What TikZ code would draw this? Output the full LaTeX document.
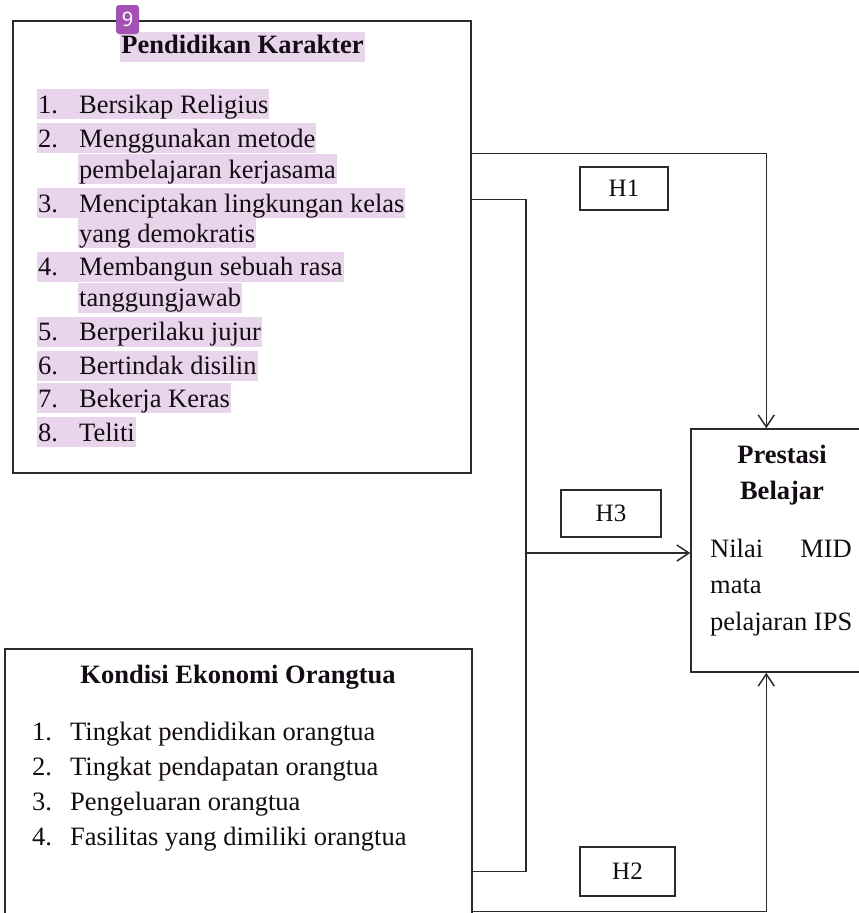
\documentclass[tikz,border=0pt]{standalone}
\usepackage{fontspec}
\setmainfont{Liberation Serif}
\newfontfamily\badgefont{Noto Sans}
\usetikzlibrary{arrows.meta}
\definecolor{hl}{HTML}{E9D5EB}
\definecolor{badge}{HTML}{A352B3}
\definecolor{ln}{HTML}{2B2B2B}
\definecolor{tx}{HTML}{140C14}
\begin{document}
\begin{tikzpicture}[x=1pt,y=-1pt,
  box/.style={draw=ln, line width=1.5pt, inner sep=0pt},
  conn/.style={draw=ln, line width=1.5pt},
  arr/.style={conn, -{Straight Barb[length=12pt,width=16pt,line width=1.5pt]}},
  txt/.style={font=\fontsize{26.5}{30}\selectfont, text=tx, inner sep=0pt},
  hlrow/.style={txt, anchor=base west, fill=hl, text height=24pt, text depth=6pt, inner xsep=1pt},
  item/.style={txt, anchor=base west},
  hbox/.style={box, font=\fontsize{25}{28}\selectfont, text=tx}
]
\useasboundingbox (0,0) rectangle (859,913);
\clip (0,0) rectangle (859,913);
\fill[white] (0,0) rectangle (859,913);

% boxes
\node[box, minimum width=458pt, minimum height=452pt] (k1) at (242,247) {};
\node[box, minimum width=467pt, minimum height=290pt] (ko) at (238.5,794) {};
\node[box, minimum width=200pt, minimum height=243pt] (pb) at (791,550.5) {};
\node[hbox, minimum width=88pt, minimum height=43pt] (h1) at (624,188.5) {H1};
\node[hbox, minimum width=100pt, minimum height=47pt] (h3) at (611,513.5) {H3};
\node[hbox, minimum width=95pt, minimum height=49pt] (h2) at (627.5,871.5) {H2};

% Pendidikan Karakter
\node[txt, anchor=base, fill=hl, text height=21pt, text depth=9pt, inner xsep=1pt] (t1) at (242.5,53) {\bfseries Pendidikan Karakter};
\node[fill=badge, rounded corners=3pt, minimum width=23pt, minimum height=29pt, inner sep=0pt, text=white, font=\badgefont\fontsize{20}{20}\selectfont] (bd) at (127.5,19.5) {9};
\node[hlrow] (r1) at (37,113.3) {\makebox[41pt][l]{1.}Bersikap Religius};
\node[hlrow] (r2) at (37,147.3) {\makebox[41pt][l]{2.}Menggunakan metode};
\node[hlrow] (r2b) at (78,178.3) {pembelajaran kerjasama};
\node[hlrow] (r3) at (37,212.3) {\makebox[41pt][l]{3.}Menciptakan lingkungan kelas};
\node[hlrow] (r3b) at (78,242.3) {yang demokratis};
\node[hlrow] (r4) at (37,275.7) {\makebox[41pt][l]{4.}Membangun sebuah rasa};
\node[hlrow] (r4b) at (78,306.7) {tanggungjawab};
\node[hlrow] (r5) at (37,340.7) {\makebox[41pt][l]{5.}Berperilaku jujur};
\node[hlrow] (r6) at (37,374.7) {\makebox[41pt][l]{6.}Bertindak disilin};
\node[hlrow] (r7) at (37,407.3) {\makebox[41pt][l]{7.}Bekerja Keras};
\node[hlrow] (r8) at (37,441.3) {\makebox[41pt][l]{8.}Teliti};

% Kondisi Ekonomi Orangtua
\node[txt, anchor=base] (t2) at (238,683) {\bfseries Kondisi Ekonomi Orangtua};
\node[item] (e1) at (32,740) {\makebox[38pt][l]{1.}Tingkat pendidikan orangtua};
\node[item] (e2) at (32,775) {\makebox[38pt][l]{2.}Tingkat pendapatan orangtua};
\node[item] (e3) at (32,810) {\makebox[38pt][l]{3.}Pengeluaran orangtua};
\node[item] (e4) at (32,845) {\makebox[38pt][l]{4.}Fasilitas yang dimiliki orangtua};

% Prestasi Belajar
\node[txt, anchor=base] (p1) at (782,463) {\bfseries Prestasi};
\node[txt, anchor=base] (p2) at (782,499) {\bfseries Belajar};
\node[txt, anchor=base west] (p3) at (710,557) {Nilai};
\node[txt, anchor=base east] (p4) at (852,557) {MID};
\node[txt, anchor=base west] (p5) at (710,593) {mata};
\node[txt, anchor=base west] (p6) at (710,630) {pelajaran IPS};

% connectors
\coordinate (j) at (526,553);
\draw[arr] ([yshift=-133pt]k1.north east) -| ([xshift=76pt]pb.north west);
\draw[conn] ([yshift=-179pt]k1.north east) -| (j) |- ([yshift=-223pt]ko.north east);
\draw[arr] (j) -- (j -| pb.west);
\draw[arr] ([yshift=-263pt]ko.north east) -| ([xshift=76pt]pb.south west);
\end{tikzpicture}
\end{document}
